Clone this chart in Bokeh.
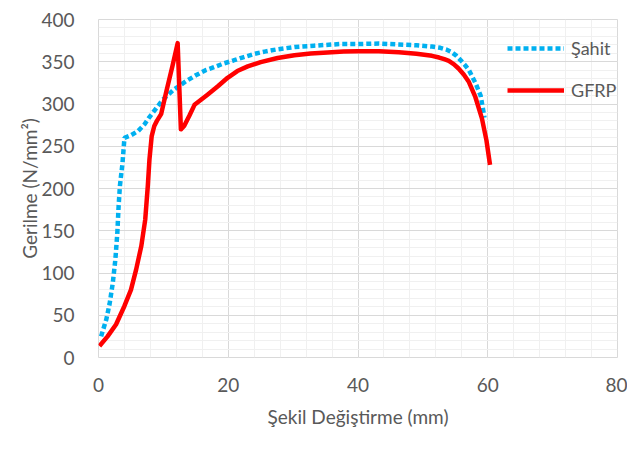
from bokeh.plotting import figure
from bokeh.models import Range1d, SingleIntervalTicker, Legend, LegendItem
from bokeh.embed import file_html
from bokeh.resources import INLINE

# Şahit (control) series
sahit_x = [0.4, 1.2, 1.7, 2.2, 2.6, 2.9, 3.1, 3.3, 3.7, 4.0, 5.0, 6.1, 7.1, 7.8, 8.8,
           9.9, 11.6, 13.5, 15.0, 16.5, 17.8, 19.3, 20.8, 22.4, 24.1, 25.6, 27.4, 30.3,
           33.2, 37.3, 40.0, 43.2, 46.3, 49.0, 51.4, 52.7, 53.6, 54.3, 55.1, 55.8, 56.5,
           57.1, 58.1, 58.9, 59.5]
sahit_y = [25, 45, 63, 88, 116, 147, 179, 203, 230, 260, 263, 268, 276, 284, 294,
           305, 317, 327, 334, 340, 343.5, 348, 351.5, 355.5, 359.5, 362, 364.5, 367.5,
           369, 371, 371, 371.5, 370.5, 369.5, 368, 366.5, 364.5, 362, 357.5, 352, 346,
           340, 325, 310, 284]

# GFRP series
gfrp_x = [0.15, 1.4, 2.7, 4.0, 5.0, 5.8, 6.6, 7.2, 7.6, 7.85, 8.2, 8.6, 9.0, 9.65, 10.4,
          11.4, 12.2, 12.7, 13.2, 14.0, 14.8, 15.8, 16.8, 18.4, 19.9, 21.4, 23.0, 25.0,
          27.6, 30.2, 32.7, 35.3, 37.8, 40.0, 43.2, 46.3, 49.0, 51.4, 52.5, 53.3, 54.0,
          54.8, 55.5, 56.3, 57.1, 58.1, 59.1, 59.8, 60.35]
gfrp_y = [13.5, 25, 39, 61, 80, 104, 132, 163, 203, 234, 262, 274, 280, 288, 313,
          345, 372, 270, 274, 286, 299, 305, 311, 321, 331, 339, 344.5, 349.5,
          354.5, 357.7, 359.8, 361, 362, 362.5, 362.5, 361.3, 359.5, 357, 355, 353, 351,
          347, 342, 335, 326, 308, 283, 257, 228]

series_names = ["Şahit", "GFRP"]
x_label = "Şekil Değiştirme (mm)"
y_label = "Gerilme (N/mm²)"

FONT = "Lato"
TXT = "#595959"

p = figure(output_backend="svg", toolbar_location=None,
           x_range=Range1d(0, 80), y_range=Range1d(0, 400),
           frame_width=519, frame_height=338,
           min_border_left=98, min_border_right=10, min_border_top=19, min_border_bottom=76)

p.xaxis.ticker = SingleIntervalTicker(interval=20, num_minor_ticks=5)
p.yaxis.ticker = SingleIntervalTicker(interval=50, num_minor_ticks=5)

for ax in (p.xaxis[0], p.yaxis[0]):
    ax.axis_line_color = None
    ax.major_tick_line_color = None
    ax.minor_tick_line_color = None
    ax.major_label_text_font = FONT
    ax.major_label_text_font_size = "19px"
    ax.major_label_text_color = TXT
    ax.axis_label_text_font = FONT
    ax.axis_label_text_font_size = "19px"
    ax.axis_label_text_color = TXT
    ax.axis_label_text_font_style = "normal"

p.xaxis.axis_label = x_label
p.yaxis.axis_label = y_label
p.xaxis.major_label_standoff = 14
p.yaxis.major_label_standoff = 18
p.xaxis.axis_label_standoff = 10
p.yaxis.axis_label_standoff = -3

for g in (p.xgrid[0], p.ygrid[0]):
    g.grid_line_color = "#d9d9d9"
    g.minor_grid_line_color = "#f0f0f0"
    g.level = "underlay"

p.outline_line_color = "#d9d9d9"
p.background_fill_color = "white"
p.border_fill_color = "white"

r1 = p.line(sahit_x, sahit_y, line_color="#00b0f0", line_width=4.5, line_dash="5 3")
r2 = p.line(gfrp_x, gfrp_y, line_color="#ff0000", line_width=4.5, line_join="round")

legend = Legend(items=[LegendItem(label=series_names[0], renderers=[r1]),
                       LegendItem(label=series_names[1], renderers=[r2])],
                location=(409, 256))
legend.background_fill_alpha = 0
legend.border_line_color = None
legend.padding = 0
legend.margin = 0
legend.spacing = 20
legend.glyph_width = 57
legend.glyph_height = 20
legend.label_standoff = 7
legend.label_text_font = FONT
legend.label_text_font_size = "18px"
legend.label_text_color = TXT
p.add_layout(legend)

open("out.html", "w").write(file_html(p, INLINE))
